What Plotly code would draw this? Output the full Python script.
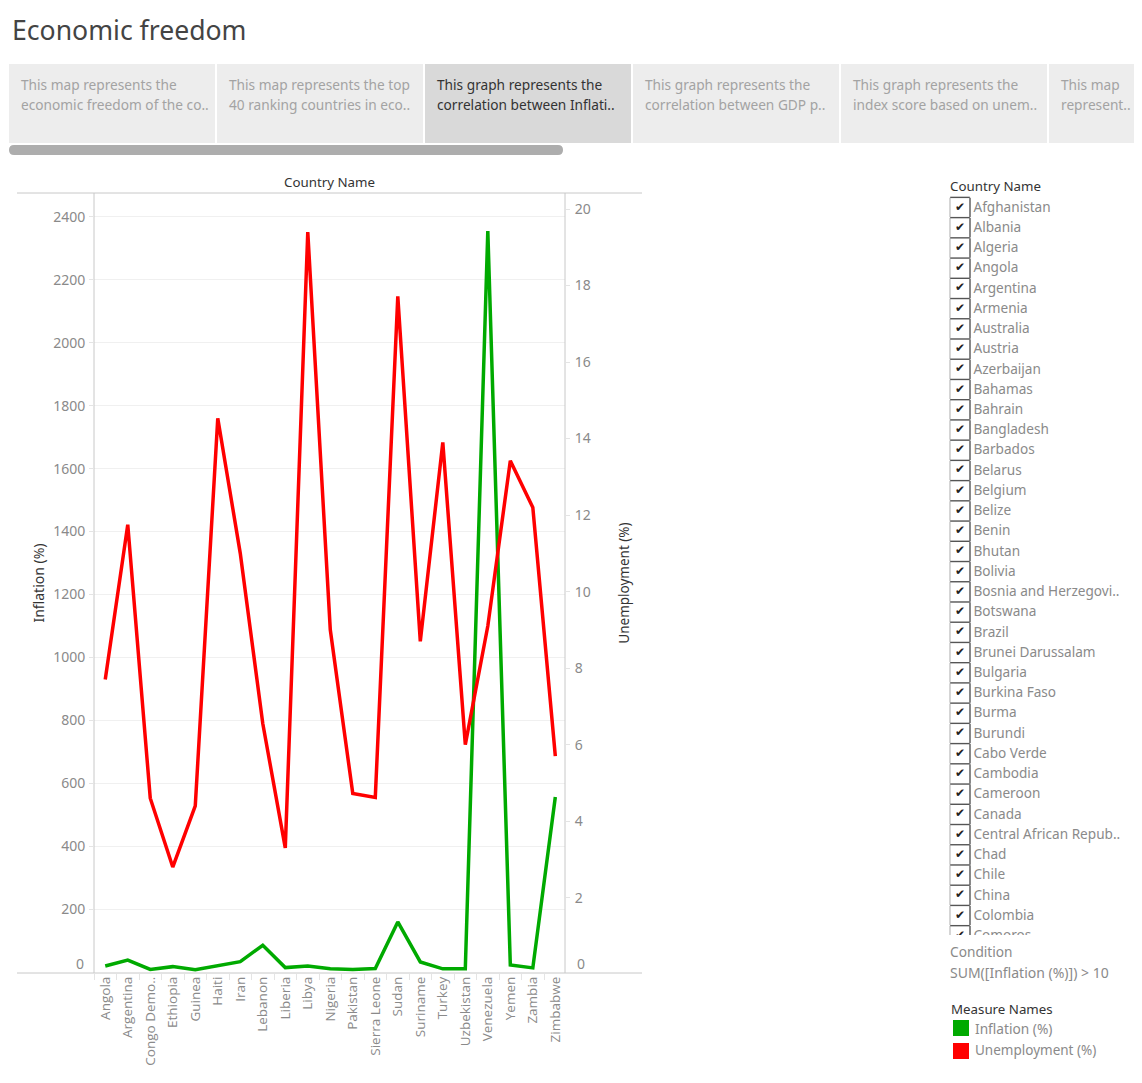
import plotly.graph_objects as go

W, H = 1142, 1083
countries = ["Angola","Argentina","Congo Demo..","Ethiopia","Guinea","Haiti","Iran","Lebanon","Liberia","Libya","Nigeria","Pakistan","Sierra Leone","Sudan","Suriname","Turkey","Uzbekistan","Venezuela","Yemen","Zambia","Zimbabwe"]
inflation = [20,39,9,18,8,20,34,86,15,20,11,9,12,160,33,11,11,2355,23,14,557]
unemployment = [7.7,11.75,4.6,2.8,4.4,14.53,11.0,6.55,3.3,19.4,9.0,4.72,4.62,17.72,8.7,13.9,6.0,9.1,13.42,12.2,5.7]
infl_ticks = list(range(200,2401,200))
unemp_ticks = list(range(2,21,2))
filter_list = ["Afghanistan","Albania","Algeria","Angola","Argentina","Armenia","Australia","Austria","Azerbaijan","Bahamas","Bahrain","Bangladesh","Barbados","Belarus","Belgium","Belize","Benin","Bhutan","Bolivia","Bosnia and Herzegovi..","Botswana","Brazil","Brunei Darussalam","Bulgaria","Burkina Faso","Burma","Burundi","Cabo Verde","Cambodia","Cameroon","Canada","Central African Repub..","Chad","Chile","China","Colombia","Comoros"]
tabs = [("This map represents the","economic freedom of the co.."),("This map represents the top","40 ranking countries in eco.."),("This graph represents the","correlation between Inflati.."),("This graph represents the","correlation between GDP p.."),("This graph represents the","index score based on unem.."),("This map","represent..")]
tab_x = [(9,215),(217,423),(425,631),(633,839),(841,1047),(1049,1134)]
selected = 2

FONT = "Noto Sans"
GREY = "#8a8a8a"
px = lambda x: x / W
py = lambda y: 1 - y / H

def rect(x0, y0, x1, y1, fill):
    return dict(type="rect", xref="paper", yref="paper", x0=px(x0), x1=px(x1), y0=py(y0), y1=py(y1),
                fillcolor=fill, line=dict(width=0), layer="below")

def hline(x0, x1, y, c="#c8c8c8"):
    return dict(type="line", xref="paper", yref="paper", x0=px(x0), x1=px(x1), y0=py(y), y1=py(y), line=dict(color=c, width=1))

def vline(x, y0, y1, c="#c8c8c8"):
    return dict(type="line", xref="paper", yref="paper", x0=px(x), x1=px(x), y0=py(y0), y1=py(y1), line=dict(color=c, width=1))

def note(x, y, t, size=13.7, color=GREY, **kw):
    anchor = kw.pop("xanchor", "left")
    x = x - 2 if anchor == "left" else x
    return dict(xref="paper", yref="paper", x=px(x), y=py(y - 0.7), text=t, showarrow=False, xanchor=anchor,
                yanchor="middle", font=dict(family=FONT, size=size, color=color), **kw)

shapes, ann = [], []
for i, ((a, b), (l1, l2)) in enumerate(zip(tab_x, tabs)):
    shapes.append(rect(a, 64, b, 143, "#d9d9d9" if i == selected else "#ededed"))
    c = "#333333" if i == selected else "#a3a3a3"
    ann.append(note(a + 12, 85.2, l1, color=c))
    ann.append(note(a + 12, 105.2, l2, color=c))
r = 5
shapes.append(dict(type="path", xref="paper", yref="paper", fillcolor="#adadad", line=dict(width=0),
    path=f"M {px(9+r)} {py(145)} L {px(563-r)} {py(145)} Q {px(563)} {py(145)} {px(563)} {py(150)} Q {px(563)} {py(155)} {px(563-r)} {py(155)} "
         f"L {px(9+r)} {py(155)} Q {px(9)} {py(155)} {px(9)} {py(150)} Q {px(9)} {py(145)} {px(9+r)} {py(145)} Z"))
ann.append(note(12, 31, "Economic freedom", size=26.6, color="#444444"))
ann.append(note(329.5, 182.5, "Country Name", size=13.3, color="#333333", xanchor="center"))
ann.append(note(950, 186.5, "Country Name", size=13.3, color="#333333"))
ann.append(note(949.5, 952.5, "Condition"))
ann.append(note(950, 973, "SUM([Inflation (%)]) > 10", size=14))
ann.append(note(951, 1009.5, "Measure Names", size=13.3, color="#333333"))
ann.append(note(975, 1029, "Inflation (%)"))
ann.append(note(975, 1051, "Unemployment (%)", size=13.5))
shapes.append(rect(953, 1020, 969, 1036, "#00aa00"))
shapes.append(rect(953, 1043, 969, 1059, "#ff0000"))
shapes.append(hline(17, 642, 193))
shapes.append(hline(17, 642, 973))
shapes.append(vline(94, 193, 973))
shapes.append(vline(565, 193, 973))
ann.append(dict(xref="paper", yref="y", x=px(86), y=0, yshift=9, text="0", showarrow=False, xanchor="right",
                font=dict(family=FONT, size=14, color=GREY)))
ann.append(dict(xref="paper", yref="y", x=px(575), y=0, yshift=9, text="0", showarrow=False, xanchor="left",
                font=dict(family=FONT, size=14, color=GREY)))

fig = go.Figure()
fig.add_trace(go.Scatter(x=countries, y=inflation, mode="lines", name="Inflation (%)", line=dict(color="#00aa00", width=3.5), yaxis="y"))
fig.add_trace(go.Scatter(x=countries, y=unemployment, mode="lines", name="Unemployment (%)", line=dict(color="#ff0000", width=3.5), yaxis="y2"))

LIST_TOP, LIST_BOT, LIST_L, LIST_R = 196, 935, 945, 1134
PITCH, ROW0 = 20.23, 207.5
fx = lambda p: (p - LIST_L) / (LIST_R - LIST_L)
idx = list(range(len(filter_list)))
n = len(idx)
def list_trace(xp, ys, **kw):
    return go.Scatter(x=[fx(xp)] * n, y=ys, xaxis="x2", yaxis="y3", showlegend=False, **kw)
def edge(sym, c):
    return dict(symbol=sym, size=14, color=c, line=dict(color=c, width=1.4))
fig.add_trace(list_trace(950, idx, mode="markers", marker=edge("line-ns", "#c4c4c4")))
fig.add_trace(list_trace(960, [i - 0.5 for i in idx], mode="markers", marker=edge("line-ew", "#555555")))
fig.add_trace(list_trace(970, idx, mode="markers", marker=edge("line-ns", "#555555")))
fig.add_trace(list_trace(960, idx, mode="text", text=["✔"] * n, textposition="middle center",
                         textfont=dict(family="DejaVu Sans", size=12, color="#222222")))
fig.add_trace(list_trace(973.5, [i + 0.04 for i in idx], mode="text", text=filter_list, textposition="middle right",
                         textfont=dict(family=FONT, size=13.6, color=GREY)))

fig.update_layout(
    width=W, height=H, autosize=False, margin=dict(l=0, r=0, t=0, b=0), paper_bgcolor="white", plot_bgcolor="white",
    showlegend=False, shapes=shapes, annotations=ann,
    xaxis=dict(domain=[px(94), px(565)], type="category", categoryorder="array", categoryarray=countries, range=[-0.5, 20.43],
               tickangle=-90, tickson="boundaries", ticks="outside", ticklen=6, tickcolor="#e4e4e4", showgrid=False, zeroline=False,
               tickfont=dict(family="Open Sans", size=13.5, color=GREY), anchor="y"),
    yaxis=dict(domain=[py(973), py(193)], range=[-2.2, 2475.5], tickvals=infl_ticks, ticks="outside", ticklen=4, tickcolor="#e4e4e4",
               gridcolor="#f0f0f0", showgrid=True, zeroline=False, tickfont=dict(family=FONT, size=14, color=GREY),
               ticklabelstandoff=1,
               title=dict(text="Inflation (%)", standoff=5, font=dict(family=FONT, size=14, color="#333333")), anchor="x"),
    yaxis2=dict(domain=[py(973), py(193)], range=[0.03, 20.42], tickvals=unemp_ticks, ticks="outside", ticklen=4, tickcolor="#e4e4e4",
                overlaying="y", side="right", showgrid=False, zeroline=False, tickfont=dict(family=FONT, size=14, color=GREY),
                ticklabelstandoff=2,
                title=dict(text="Unemployment (%)", standoff=29, font=dict(family=FONT, size=13.5, color="#333333")), anchor="x"),
    xaxis2=dict(domain=[px(LIST_L), px(LIST_R)], range=[0, 1], visible=False, anchor="y3", fixedrange=True),
    yaxis3=dict(domain=[py(LIST_BOT), py(LIST_TOP)], visible=False, anchor="x2", fixedrange=True,
                range=[(LIST_BOT - ROW0) / PITCH, (LIST_TOP - ROW0) / PITCH]),
)
fig.write_html("out.html", config={"displayModeBar": False}, post_script="document.body.style.margin='0';")
